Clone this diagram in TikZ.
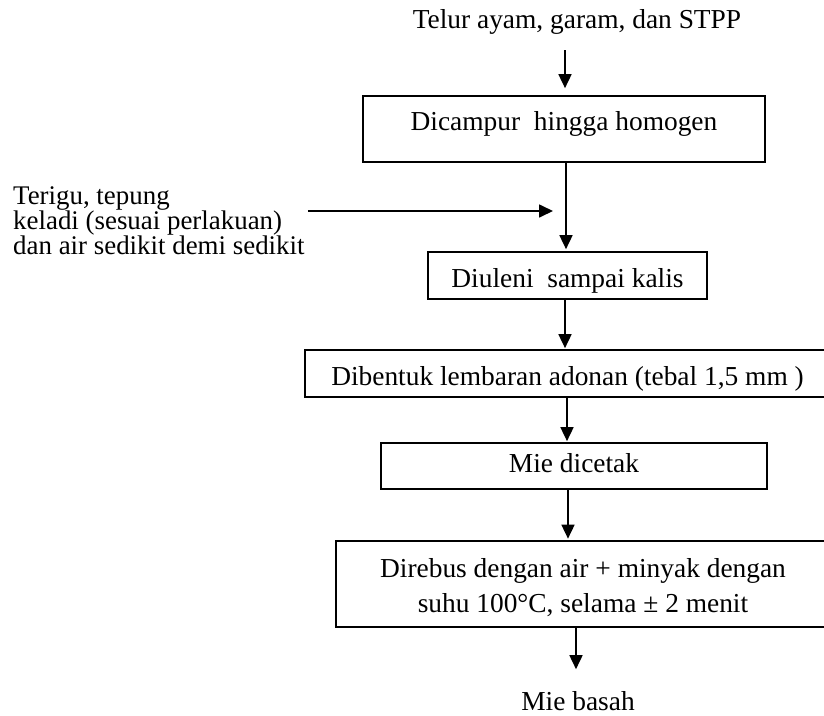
\documentclass[tikz,border=0pt]{standalone}
\usepackage{fontspec}
\setmainfont{Liberation Serif}
\usetikzlibrary{arrows.meta}
\newcommand{\sidefont}{\fontsize{26.9}{25}\selectfont}
\begin{document}
\begin{tikzpicture}[x=1pt,y=-1pt,
  every node/.style={font=\fontsize{27.4}{35}\selectfont, inner sep=0pt},
  box/.style={draw, line width=1.7pt, anchor=base, inner sep=0pt},
  arr/.style={line width=1.7pt, -{Triangle[width=13pt,length=14pt]}}]
\clip (0,0) rectangle (824,715);
% texts and boxes
\node[anchor=base] (t) at (577,28) {Telur ayam, garam, dan STPP};
\node[box, minimum width=402pt, text height=34pt, text depth=32pt] (b1) at (564,130) {Dicampur\ \ hingga homogen};
\node[anchor=base west, font=\sidefont] (L) at (13,254.5)
  {\vbox{\baselineskip=25pt\lineskiplimit=-100pt\relax
    \hbox{Terigu, tepung}\hbox{keladi (sesuai perlakuan)}\hbox{dan air sedikit demi sedikit}}};
\node[box, minimum width=279pt, text height=35pt, text depth=12pt] (b2) at (567.5,287) {Diuleni\ \ sampai kalis};
\node[box, minimum width=525pt, text height=35pt, text depth=12pt] (b3) at (567.5,385) {Dibentuk lembaran adonan (tebal 1,5 mm )};
\node[box, minimum width=386pt, text height=29pt, text depth=17pt] (b4) at (574,472) {Mie dicetak};
\node[draw, line width=1.7pt, anchor=center, minimum width=494pt, minimum height=86pt, align=center] (b5) at (583,584)
  {\rule{0pt}{27pt}Direbus dengan air + minyak dengan\\suhu 100°C, selama ± 2 menit};
\node[anchor=base] (m) at (578,710) {Mie basah};
% connector x positions
\coordinate (x0) at (565,0);
\coordinate (x1) at (566,0);
\coordinate (x2) at (565,0);
\coordinate (x3) at (567,0);
\coordinate (x4) at (568,0);
\coordinate (x5) at (576,0);
\coordinate (s1) at (553,211);
% connectors
\draw[arr, shorten <=16pt, shorten >=7pt] (t.south -| x0) -- (b1.north -| x0);
\draw[arr, shorten >=2pt] (b1.south -| x1) -- (b2.north -| x1);
\draw[arr, shorten <=3pt] (L.east |- s1) -- (s1);
\draw[arr, shorten >=1pt] (b2.south -| x2) -- (b3.north -| x2);
\draw[arr, shorten >=1pt] (b3.south -| x3) -- (b4.north -| x3);
\draw[arr, shorten >=1.5pt] (b4.south -| x4) -- (b5.north -| x4);
\draw[arr, shorten >=21.6pt] (b5.south -| x5) -- (m.north -| x5);
\end{tikzpicture}
\end{document}
